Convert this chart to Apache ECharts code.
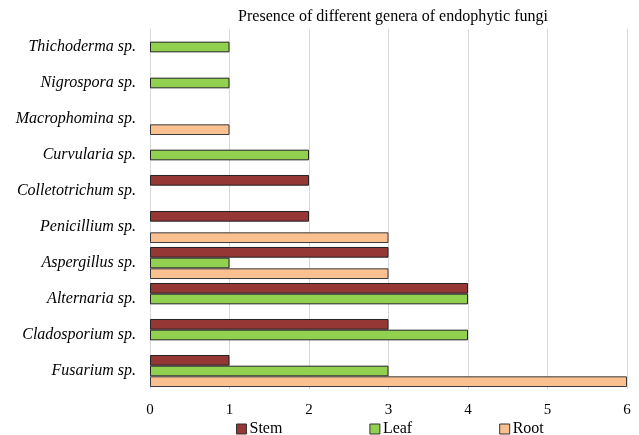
<!DOCTYPE html>
<html><head><meta charset="utf-8">
<script src="https://cdn.jsdelivr.net/npm/echarts@6/dist/echarts.min.js"></script>
<style>html,body{margin:0;padding:0;background:#fff}#c{width:639px;height:435px}</style>
</head><body><div id="c"></div>
<script>
// categories bottom to top
var categories = ['Fusarium sp.','Cladosporium sp.','Alternaria sp.','Aspergillus sp.','Penicillium sp.','Colletotrichum sp.','Curvularia sp.','Macrophomina sp.','Nigrospora sp.','Thichoderma sp.'];
var stem = [1,3,4,3,2,2,0,0,0,0];
var leaf = [3,4,4,1,0,0,2,0,1,1];
var root = [6,0,0,3,3,0,0,1,0,0];
var xTicks = [0,1,2,3,4,5,6];
var title = 'Presence of different genera of endophytic fungi';

function nz(a){return a.map(function(v){return v===0?null:v;});}
var font = 'Liberation Serif, Times New Roman, serif';
var chart = echarts.init(document.getElementById('c'));
chart.setOption({
  animation:false,
  title:{text:title, left:388, textAlign:'center', top:4, textStyle:{fontFamily:font, fontWeight:'normal', fontSize:16, color:'#000'}},
  grid:{left:150, right:12, top:29, bottom:46, containLabel:false},
  legend:{data:['Stem','Leaf','Root'], top:416, left:231, itemGap:87, itemWidth:10, itemHeight:10, icon:'rect',
    itemStyle:{borderColor:'#333', borderWidth:1},
    textStyle:{fontFamily:font, fontSize:16, color:'#000', padding:[0,0,0,-2]}},
  xAxis:{type:'value', min:0, max:6, interval:1,
    axisLine:{show:false}, axisTick:{show:false},
    splitLine:{lineStyle:{color:'#d9d9d9'}},
    axisLabel:{fontFamily:font, fontSize:15, color:'#000', margin:14, formatter:function(v){return xTicks.indexOf(v)>=0?String(v):'';}}},
  yAxis:{type:'category', data:categories,
    axisLine:{show:true, lineStyle:{color:'#d9d9d9'}}, axisTick:{show:false},
    axisLabel:{fontFamily:font, fontStyle:'italic', fontSize:16, color:'#000', margin:14}},
  series:[
    {type:'bar', barGap:'0%', barCategoryGap:'11%', name:'Stem', data:nz(stem), itemStyle:{color:'#953735', borderColor:'#222', borderWidth:1}},
    {type:'bar', barGap:'0%', barCategoryGap:'11%', name:'Leaf', data:nz(leaf), itemStyle:{color:'#92d050', borderColor:'#222', borderWidth:1}},
    {type:'bar', barGap:'0%', barCategoryGap:'11%', name:'Root', data:nz(root), itemStyle:{color:'#fac090', borderColor:'#3a3a3a', borderWidth:1}}
  ]
});
</script></body></html>
